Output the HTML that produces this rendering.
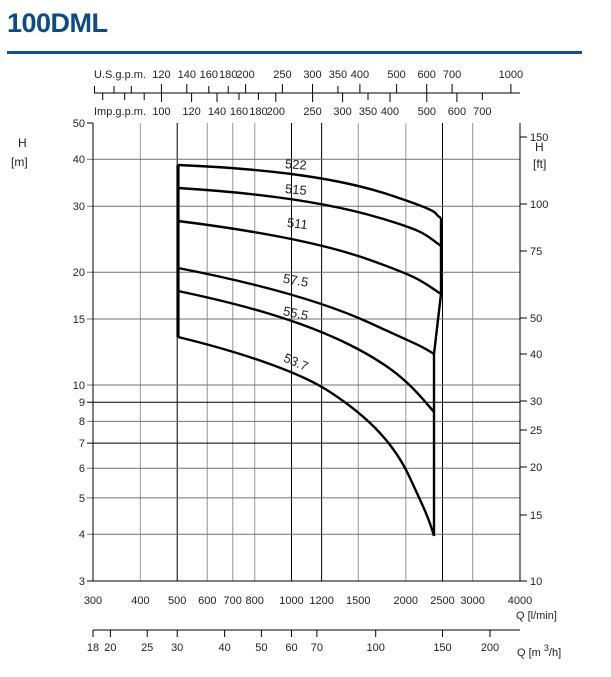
<!DOCTYPE html>
<html><head><meta charset="utf-8"><style>
html,body{margin:0;padding:0;background:#fff;}
svg{display:block;font-family:"Liberation Sans",sans-serif;}
</style></head><body>
<svg width="611" height="677" viewBox="0 0 611 677" xmlns="http://www.w3.org/2000/svg">
<text x="7" y="32" font-size="27" font-weight="bold" fill="#0d4a86" letter-spacing="-0.5">100DML</text>
<rect x="7" y="51" width="575" height="3" fill="#14508a"/>

<g font-size="11" fill="#222">
<line x1="94" y1="93" x2="520" y2="93" stroke="#000"/>
<g stroke="#000">
<line x1="94.5" y1="86" x2="94.5" y2="93"/><line x1="114" y1="86" x2="114" y2="93"/><line x1="131.3" y1="86" x2="131.3" y2="93"/>
<line x1="161.4" y1="84" x2="161.4" y2="93"/><line x1="186.8" y1="84" x2="186.8" y2="93"/><line x1="208.8" y1="86" x2="208.8" y2="93"/>
<line x1="228.2" y1="86" x2="228.2" y2="93"/><line x1="245.6" y1="84" x2="245.6" y2="93"/><line x1="282.4" y1="84" x2="282.4" y2="93"/>
<line x1="312.5" y1="84" x2="312.5" y2="93"/><line x1="337.9" y1="86" x2="337.9" y2="93"/><line x1="359.9" y1="84" x2="359.9" y2="93"/>
<line x1="396.6" y1="84" x2="396.6" y2="93"/><line x1="426.7" y1="84" x2="426.7" y2="93"/><line x1="452.1" y1="84" x2="452.1" y2="93"/>
<line x1="510.9" y1="84" x2="510.9" y2="93"/>
</g>
<text x="94" y="78">U.S.g.p.m.</text>
<g text-anchor="middle">
<text x="161.4" y="78">120</text><text x="186.8" y="78">140</text><text x="208.8" y="78">160</text><text x="228.2" y="78">180</text><text x="245.6" y="78">200</text>
<text x="282.4" y="78">250</text><text x="312.5" y="78">300</text><text x="337.9" y="78">350</text><text x="359.9" y="78">400</text>
<text x="396.6" y="78">500</text><text x="426.7" y="78">600</text><text x="452.1" y="78">700</text><text x="510.9" y="78">1000</text>
</g>
<g stroke="#000">
<line x1="102.7" y1="93" x2="102.7" y2="100"/><line x1="124.7" y1="93" x2="124.7" y2="100"/><line x1="144.2" y1="93" x2="144.2" y2="100"/>
<line x1="161.5" y1="93" x2="161.5" y2="102"/><line x1="191.6" y1="93" x2="191.6" y2="102"/><line x1="217" y1="93" x2="217" y2="102"/>
<line x1="239" y1="93" x2="239" y2="100"/><line x1="258.4" y1="93" x2="258.4" y2="100"/><line x1="275.8" y1="93" x2="275.8" y2="102"/>
<line x1="312.6" y1="93" x2="312.6" y2="102"/><line x1="342.6" y1="93" x2="342.6" y2="102"/><line x1="368" y1="93" x2="368" y2="100"/>
<line x1="390" y1="93" x2="390" y2="102"/><line x1="426.8" y1="93" x2="426.8" y2="102"/><line x1="456.9" y1="93" x2="456.9" y2="102"/>
<line x1="482.3" y1="93" x2="482.3" y2="100"/>
</g>
<text x="94" y="115">Imp.g.p.m.</text>
<g text-anchor="middle">
<text x="161.5" y="115">100</text><text x="191.6" y="115">120</text><text x="217" y="115">140</text><text x="239" y="115">160</text><text x="258.4" y="115">180</text><text x="275.8" y="115">200</text>
<text x="312.6" y="115">250</text><text x="342.6" y="115">300</text><text x="368" y="115">350</text><text x="390" y="115">400</text>
<text x="426.8" y="115">500</text><text x="456.9" y="115">600</text><text x="482.3" y="115">700</text>
</g>

<g stroke="#a8a8a8" stroke-width="1.2">
<line x1="140.4" y1="123" x2="140.4" y2="581"/><line x1="207.3" y1="123" x2="207.3" y2="581"/><line x1="232.7" y1="123" x2="232.7" y2="581"/>
<line x1="254.7" y1="123" x2="254.7" y2="581"/><line x1="358.3" y1="123" x2="358.3" y2="581"/><line x1="405.8" y1="123" x2="405.8" y2="581"/>
<line x1="472.6" y1="123" x2="472.6" y2="581"/>
</g>
<g stroke="#000">
<line x1="177.2" y1="123" x2="177.2" y2="581"/><line x1="291.5" y1="123" x2="291.5" y2="581"/><line x1="321.6" y1="123" x2="321.6" y2="581"/><line x1="442.5" y1="123" x2="442.5" y2="581"/>
</g>
<g stroke="#707070">
<line x1="87" y1="159.3" x2="520" y2="159.3"/><line x1="87" y1="206.2" x2="520" y2="206.2"/><line x1="87" y1="272.2" x2="520" y2="272.2"/>
<line x1="87" y1="319" x2="520" y2="319"/><line x1="87" y1="385" x2="520" y2="385"/><line x1="87" y1="421.4" x2="520" y2="421.4"/>
<line x1="87" y1="468.2" x2="520" y2="468.2"/><line x1="87" y1="497.9" x2="520" y2="497.9"/><line x1="87" y1="534.2" x2="520" y2="534.2"/>
</g>
<g stroke="#000">
<line x1="87" y1="402.2" x2="520" y2="402.2"/><line x1="87" y1="443.1" x2="520" y2="443.1"/>
<line x1="87" y1="123" x2="93" y2="123"/>
<line x1="93" y1="123" x2="93" y2="581"/><line x1="520" y1="123" x2="520" y2="581"/>
<line x1="87" y1="581" x2="520" y2="581"/>
</g>
<g text-anchor="end">
<text x="85" y="127">50</text><text x="85" y="163">40</text><text x="85" y="210">30</text><text x="85" y="276">20</text><text x="85" y="323">15</text>
<text x="85" y="389">10</text><text x="85" y="406">9</text><text x="85" y="425">8</text><text x="85" y="447">7</text><text x="85" y="472">6</text>
<text x="85" y="502">5</text><text x="85" y="538">4</text><text x="85" y="585">3</text>
</g>
<text x="18" y="147" font-size="12">H</text>
<text x="11" y="166" font-size="12">[m]</text>
<g stroke="#000">
<line x1="520" y1="137" x2="527" y2="137"/><line x1="520" y1="204" x2="527" y2="204"/><line x1="520" y1="251" x2="527" y2="251"/>
<line x1="520" y1="318" x2="527" y2="318"/><line x1="520" y1="354" x2="527" y2="354"/><line x1="520" y1="401" x2="527" y2="401"/>
<line x1="520" y1="430" x2="527" y2="430"/><line x1="520" y1="467" x2="527" y2="467"/><line x1="520" y1="515" x2="527" y2="515"/>
<line x1="520" y1="581" x2="527" y2="581"/>
</g>
<text x="530" y="141">150</text><text x="530" y="208">100</text><text x="530" y="255">75</text><text x="530" y="322">50</text><text x="530" y="358">40</text>
<text x="530" y="405">30</text><text x="530" y="434">25</text><text x="530" y="471">20</text><text x="530" y="519">15</text><text x="530" y="585">10</text>
<text x="535" y="151" font-size="12">H</text>
<text x="533" y="168" font-size="12">[ft]</text>

<g text-anchor="middle">
<text x="93" y="604">300</text><text x="140.4" y="604">400</text><text x="177.2" y="604">500</text><text x="207.3" y="604">600</text>
<text x="232.7" y="604">700</text><text x="254.7" y="604">800</text><text x="291.5" y="604">1000</text><text x="321.6" y="604">1200</text>
<text x="358.3" y="604">1500</text><text x="405.8" y="604">2000</text><text x="442.5" y="604">2500</text><text x="472.6" y="604">3000</text><text x="520" y="604">4000</text>
</g>
<text x="516" y="619">Q [l/min]</text>
<line x1="93" y1="630" x2="520" y2="630" stroke="#000"/>
<g stroke="#000">
<line x1="93" y1="630" x2="93" y2="637"/><line x1="110.4" y1="630" x2="110.4" y2="637"/><line x1="147.2" y1="630" x2="147.2" y2="637"/>
<line x1="177.2" y1="630" x2="177.2" y2="637"/><line x1="224.6" y1="630" x2="224.6" y2="637"/><line x1="261.4" y1="630" x2="261.4" y2="637"/>
<line x1="291.5" y1="630" x2="291.5" y2="637"/><line x1="316.9" y1="630" x2="316.9" y2="637"/><line x1="375.7" y1="630" x2="375.7" y2="637"/>
<line x1="442.5" y1="630" x2="442.5" y2="637"/><line x1="490" y1="630" x2="490" y2="637"/>
</g>
<g text-anchor="middle">
<text x="93" y="651">18</text><text x="110.4" y="651">20</text><text x="147.2" y="651">25</text><text x="177.2" y="651">30</text>
<text x="224.6" y="651">40</text><text x="261.4" y="651">50</text><text x="291.5" y="651">60</text><text x="316.9" y="651">70</text>
<text x="375.7" y="651">100</text><text x="442.5" y="651">150</text><text x="490" y="651">200</text>
</g>
<text x="517" y="656">Q [m <tspan dy="-5" font-size="9">3</tspan><tspan dy="5">/h]</tspan></text>
</g>

<g fill="none" stroke="#000" stroke-width="2.4" stroke-linejoin="round">
<path d="M178 165 C 250 168, 330 175, 390 195 S 430 212, 441 218"/>
<path d="M178 188 C 260 193, 330 203, 380 218 S 425 235, 441 246"/>
<path d="M178 221 C 250 230, 320 242, 370 260 S 420 280, 441 294"/>
<path d="M178 268 C 250 282, 320 300, 370 323 S 420 345, 434 354"/>
<path d="M178 291 C 240 304, 300 320, 350 345 S 415 390, 434 412"/>
<path d="M178 337 C 240 352, 300 372, 330 392 C 370 418, 395 445, 410 478 C 420 500, 428 515, 434 536"/>
<path d="M441 218 L441 294 L434 354 L434 536"/>
<path d="M178 165 L178 337" stroke-width="3.2"/>
</g>
<g font-size="13" fill="#222">
<text x="285" y="169" transform="rotate(4 297 165)">522</text>
<text x="285" y="194" transform="rotate(5 297 190)">515</text>
<text x="287" y="228" transform="rotate(7 297 224)">511</text>
<text x="283" y="285" transform="rotate(10 297 281)">57.5</text>
<text x="283" y="318" transform="rotate(12 297 314)">55.5</text>
<text x="283" y="367" transform="rotate(24 297 363)">53.7</text>
</g>
</svg>
</body></html>
